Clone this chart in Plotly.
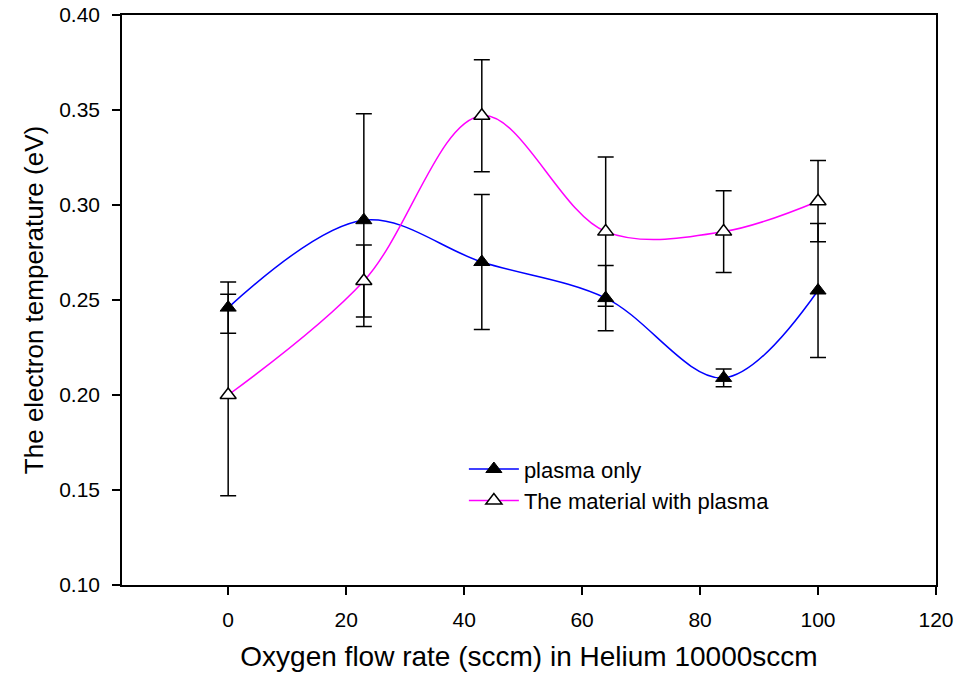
import plotly.graph_objects as go

# Data
flow = [0, 23, 43, 64, 84, 100]

plasma_only = [0.246, 0.292, 0.270, 0.251, 0.209, 0.255]
plasma_only_err = [0.0135, 0.056, 0.0355, 0.0172, 0.0047, 0.0352]

material_plasma = [0.200, 0.260, 0.347, 0.286, 0.286, 0.302]
material_plasma_err = [0.053, 0.019, 0.0295, 0.0393, 0.0215, 0.0214]

x_ticks = [0, 20, 40, 60, 80, 100, 120]
y_ticks = [0.10, 0.15, 0.20, 0.25, 0.30, 0.35, 0.40]

FONT = "Liberation Sans, Arial, sans-serif"

fig = go.Figure()

fig.add_trace(go.Scatter(
    x=flow, y=plasma_only,
    name="plasma only",
    mode="lines+markers",
    line=dict(color="#0000FF", width=1.5, shape="spline", smoothing=1.0),
    marker=dict(symbol="triangle-up", size=14, color="black",
                line=dict(color="black", width=1)),
    error_y=dict(type="data", array=plasma_only_err, visible=True,
                 color="black", thickness=1.5, width=8),
))

fig.add_trace(go.Scatter(
    x=flow, y=material_plasma,
    name="The material with plasma",
    mode="lines+markers",
    line=dict(color="#FF00FF", width=1.5, shape="spline", smoothing=1.0),
    marker=dict(symbol="triangle-up", size=14, color="white",
                line=dict(color="black", width=1.5)),
    error_y=dict(type="data", array=material_plasma_err, visible=True,
                 color="black", thickness=1.5, width=8),
))

fig.update_layout(
    width=955, height=683,
    margin=dict(l=122, r=19, t=15, b=98),
    paper_bgcolor="white", plot_bgcolor="white",
    font=dict(family=FONT, color="black", size=21),
    showlegend=True,
    legend=dict(
        x=0.42, y=0.24, xanchor="left", yanchor="top",
        bgcolor="rgba(0,0,0,0)", borderwidth=0,
        font=dict(family=FONT, size=22, color="black"),
        itemwidth=50, tracegroupgap=0,
    ),
)

fig.update_xaxes(
    range=[-18, 120],
    tickvals=x_ticks, ticktext=[str(v) for v in x_ticks],
    ticks="outside", ticklen=8, tickwidth=1.5, tickcolor="black",
    showline=True, linecolor="black", linewidth=1.5, mirror=True,
    showgrid=False, zeroline=False, automargin=False,
    tickfont=dict(size=21),
    ticklabelstandoff=7,
    title=dict(text="Oxygen flow rate (sccm) in Helium 10000sccm",
               font=dict(size=28), standoff=16),
)

fig.update_yaxes(
    range=[0.10, 0.40],
    tickvals=y_ticks, ticktext=[f"{v:.2f}" for v in y_ticks],
    ticks="outside", ticklen=8, tickwidth=1.5, tickcolor="black",
    showline=True, linecolor="black", linewidth=1.5, mirror=True,
    showgrid=False, zeroline=False, automargin=False,
    tickfont=dict(size=21),
    ticklabelstandoff=8,
    title=dict(text="The electron temperature (eV)",
               font=dict(size=26), standoff=8),
)

fig.write_html("out.html")
